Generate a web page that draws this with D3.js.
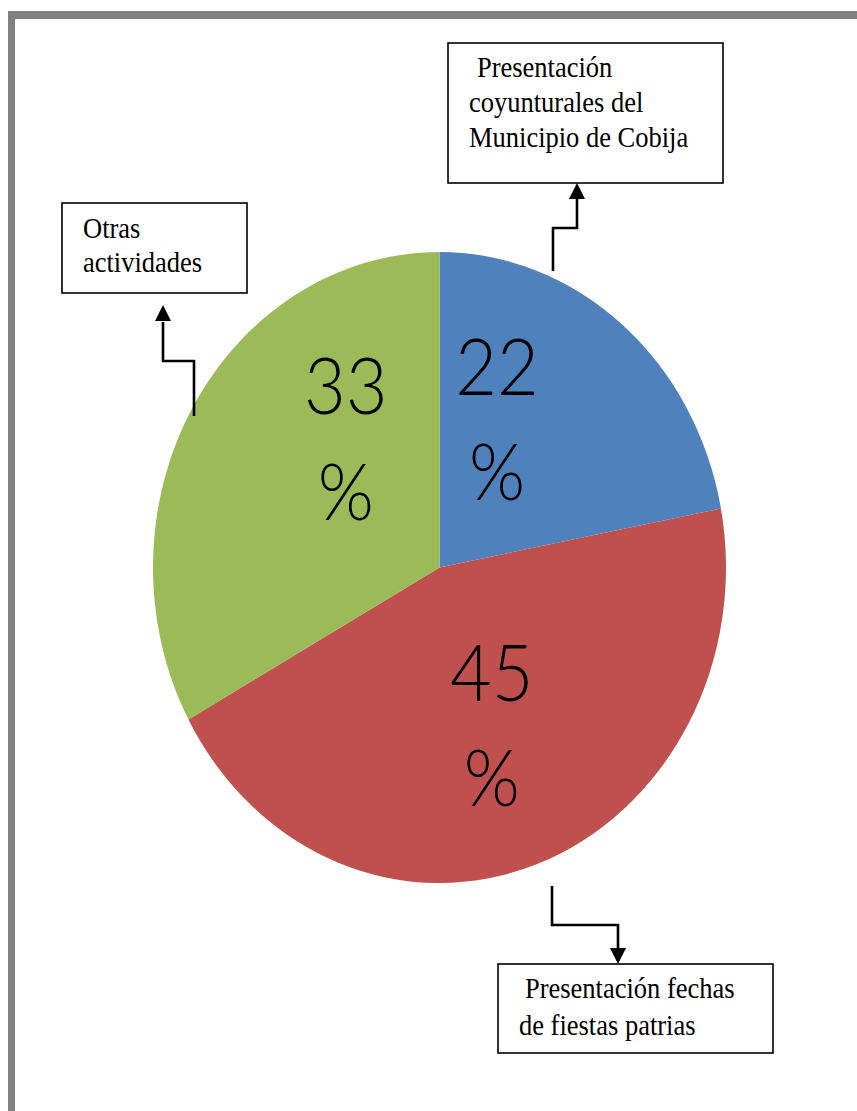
<!DOCTYPE html>
<html>
<head>
<meta charset="utf-8">
<script src="https://d3js.org/d3.v7.min.js"></script>
<style>
  body { margin: 0; background: #fff; }
  svg { display: block; }
</style>
</head>
<body>
<script>
// data
var categories = ["Presentación coyunturales del Municipio de Cobija", "Presentación fechas de fiestas patrias", "Otras actividades"];
var values = [22, 45, 33];
var colors = ["#4F81BD", "#C0504D", "#9BBB59"];
var pctLabels = ["22", "45", "33"];

// callout box texts (one entry per line)
var boxLines = [
  ["Presentación", "coyunturales del", "Municipio de Cobija"],
  ["Presentación fechas", "de fiestas patrias"],
  ["Otras", "actividades"]
];

var W = 857, H = 1111;
var cx = 439.5, cy = 567.5, rx = 286.5, ry = 315.5;
var stretch = ry / rx;

var svg = d3.select("body").append("svg")
  .attr("width", W).attr("height", H);

// frame (top and left gray bars)
svg.append("rect").attr("x", 8).attr("y", 11).attr("width", W - 8).attr("height", 8).attr("fill", "#808080");
svg.append("rect").attr("x", 8).attr("y", 11).attr("width", 7).attr("height", H - 11).attr("fill", "#808080");

var pie = d3.pie().sort(null).value(function(d) { return d; });
var arcs = pie(values);

var arc = d3.arc().innerRadius(0).outerRadius(rx);
var labelArc = d3.arc().innerRadius(rx * 0.55).outerRadius(rx * 0.55);

var g = svg.append("g")
  .attr("transform", "translate(" + cx + "," + cy + ") scale(1," + stretch + ")");

g.selectAll("path.slice")
  .data(arcs)
  .enter().append("path")
  .attr("class", "slice")
  .attr("d", arc)
  .attr("fill", function(d, i) { return colors[i]; });

// label nudges so the two-line labels sit where the original puts them
var nudge = [[-43, -15], [-1, -6], [42, -41]];

var lab = svg.selectAll("g.lab")
  .data(arcs)
  .enter().append("g")
  .attr("class", "lab")
  .attr("transform", function(d, i) {
    var c = labelArc.centroid(d);
    var x = cx + c[0] + nudge[i][0];
    var y = cy + c[1] * stretch + nudge[i][1];
    return "translate(" + x + "," + y + ") scale(1," + stretch + ")";
  });

lab.append("text")
  .attr("text-anchor", "middle")
  .attr("y", -22)
  .style("font-family", "Lato, 'Open Sans', sans-serif")
  .style("font-weight", 300)
  .style("font-size", "72px")
  .attr("fill", "#000")
  .text(function(d, i) { return pctLabels[i]; });

lab.append("text")
  .attr("text-anchor", "middle")
  .attr("y", 74)
  .style("font-family", "Lato, 'Open Sans', sans-serif")
  .style("font-weight", 300)
  .style("font-size", "72px")
  .attr("fill", "#000")
  .text("%");

// callout boxes: rect, text lines, leader with arrow
var boxes = [
  {x: 448, y: 43, w: 275, h: 140, tx: [477, 469, 469], ty: [77, 112, 147], lines: boxLines[0],
   path: [[553, 271], [553, 228], [577, 228], [577, 198]], tip: [577, 183], dir: -1},
  {x: 498, y: 964, w: 275, h: 89, tx: [525, 519], ty: [998, 1035], lines: boxLines[1],
   path: [[552, 886], [552, 925], [618, 925], [618, 948]], tip: [618, 964], dir: 1},
  {x: 62, y: 203, w: 185, h: 90, tx: [83, 83], ty: [238, 272], lines: boxLines[2],
   path: [[194, 416], [194, 361], [163, 361], [163, 322]], tip: [163, 305], dir: -1}
];

var line = d3.line();

boxes.forEach(function(b) {
  svg.append("rect")
    .attr("x", b.x).attr("y", b.y).attr("width", b.w).attr("height", b.h)
    .attr("fill", "#fff").attr("stroke", "#000").attr("stroke-width", 1.6);

  b.lines.forEach(function(t, j) {
    svg.append("text")
      .attr("transform", "translate(" + b.tx[j] + "," + b.ty[j] + ") scale(1," + stretch + ")")
      .style("font-family", "'Liberation Serif', 'Times New Roman', serif")
      .style("font-size", "26.5px")
      .attr("fill", "#000")
      .text(t);
  });

  svg.append("path")
    .attr("d", line(b.path))
    .attr("fill", "none").attr("stroke", "#000").attr("stroke-width", 2.6);

  var tx = b.tip[0], ty = b.tip[1], base = ty - b.dir * 16;
  svg.append("path")
    .attr("d", "M" + tx + "," + ty + "L" + (tx - 8) + "," + base + "L" + (tx + 8) + "," + base + "Z")
    .attr("fill", "#000");
});
</script>
</body>
</html>
